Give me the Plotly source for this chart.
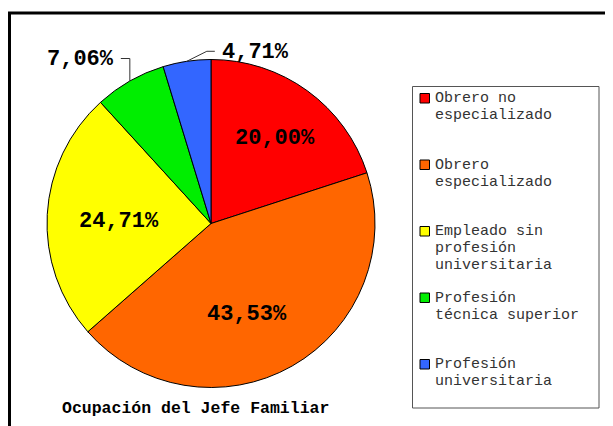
import math
import plotly.graph_objects as go

# ---- data ----
categories = ["Obrero no especializado", "Obrero especializado",
              "Empleado sin profesión universitaria",
              "Profesión técnica superior", "Profesión universitaria"]
legend_lines = [["Obrero no", "especializado"],
                ["Obrero", "especializado"],
                ["Empleado sin", "profesión", "universitaria"],
                ["Profesión", "técnica superior"],
                ["Profesión", "universitaria"]]
values = [20.00, 43.53, 24.71, 7.06, 4.71]
value_labels = ["20,00%", "43,53%", "24,71%", "7,06%", "4,71%"]
colors = ["#FF0000", "#FF6600", "#FFFF00", "#00EE00", "#3366FF"]
chart_title = "Ocupación del Jefe Familiar"

# ---- geometry helpers (page pixels -> paper) ----
OFF = 8                       # default page body margin
W, H = 613 - OFF, 426 - OFF   # figure size so the page fits the window
CX, CY, R = 211, 223.5, 164
FONT = "Courier New, Liberation Mono, monospace"

# inside-label placement: radial fraction and angle tweak (degrees)
inside_r = [0.65, 0.60, 0.56]
inside_dang = [1, 8, -2]


def px(x):
    return (x - OFF) / W


def py(y):
    return 1 - (y - OFF) / H


fig = go.Figure()
fig.add_trace(go.Pie(
    labels=categories,
    values=values,
    textinfo="none",
    sort=False,
    direction="clockwise",
    rotation=0,
    marker=dict(colors=colors, line=dict(color="black", width=1)),
    domain=dict(x=[px(CX - R), px(CX + R)], y=[py(CY + R), py(CY - R)]),
    showlegend=False,
    hoverinfo="label+percent",
))

shapes = []
annotations = []

total = sum(values)
cum = 0.0
k_in = 0
for i, v in enumerate(values):
    mid = (cum + v / 2) / total * 2 * math.pi
    cum += v
    if v >= 10:
        ang = mid + math.radians(inside_dang[k_in])
        rr = R * inside_r[k_in]
        k_in += 1
        tx = CX + rr * math.sin(ang)
        ty = CY - rr * math.cos(ang)
        annotations.append(dict(text=value_labels[i], x=px(tx), y=py(ty),
                                xref="paper", yref="paper", xanchor="center",
                                yanchor="middle", showarrow=False,
                                font=dict(family=FONT, size=22, color="black",
                                          weight=700)))
        continue
    ax = CX + R * math.sin(mid)
    ay = CY - R * math.cos(mid)
    if ax < CX - 50:
        pts = [(ax, ay), (ax, 58.5), (ax - 9, 58.5)]
        tx, anchor = ax - 14, "right"
        ty = 59.5
    else:
        pts = [(ax, ay), (ax + 20, ay - 10), (ax + 28, ay - 10)]
        tx, anchor = ax + 33, "left"
        ty = ay - 8.5
    path = "M " + " L ".join(f"{px(x)},{py(y)}" for x, y in pts)
    shapes.append(dict(type="path", path=path, xref="paper", yref="paper",
                       line=dict(color="#333333", width=1)))
    annotations.append(dict(text=value_labels[i], x=px(tx), y=py(ty),
                            xref="paper", yref="paper", xanchor=anchor,
                            yanchor="middle", showarrow=False,
                            font=dict(family=FONT, size=22, color="black",
                                      weight=700)))

# outer frame (top + left)
shapes.append(dict(type="path", xref="paper", yref="paper",
                   path=f"M {px(9.5)},{py(440)} L {px(9.5)},{py(13)} L {px(630)},{py(13)}",
                   line=dict(color="black", width=3)))

# legend box
shapes.append(dict(type="rect", xref="paper", yref="paper",
                   x0=px(412.5), x1=px(599), y0=py(408), y1=py(86.5),
                   line=dict(color="#555555", width=1), fillcolor="white",
                   layer="below"))

for i, lines in enumerate(legend_lines):
    y0 = 98.5 + 66.5 * i
    shapes.append(dict(type="rect", xref="paper", yref="paper",
                       x0=px(420), x1=px(429.5), y0=py(y0 + 4.5), y1=py(y0 - 5),
                       fillcolor=colors[i], line=dict(color="black", width=1)))
    for k, line in enumerate(lines):
        annotations.append(dict(text=line, x=px(433), y=py(y0 + 17 * k),
                                xref="paper", yref="paper", xanchor="left",
                                yanchor="middle", showarrow=False,
                                font=dict(family=FONT, size=15, color="#333333")))

# title at the bottom
annotations.append(dict(text=chart_title, x=px(195.5), y=py(408),
                        xref="paper", yref="paper", xanchor="center",
                        yanchor="middle", showarrow=False,
                        font=dict(family=FONT, size=16.5, color="black",
                                  weight=700)))

fig.update_layout(
    width=W, height=H,
    margin=dict(l=0, r=0, t=0, b=0),
    paper_bgcolor="white",
    plot_bgcolor="white",
    shapes=shapes,
    annotations=annotations,
    showlegend=False,
)

fig.write_html("out.html")
